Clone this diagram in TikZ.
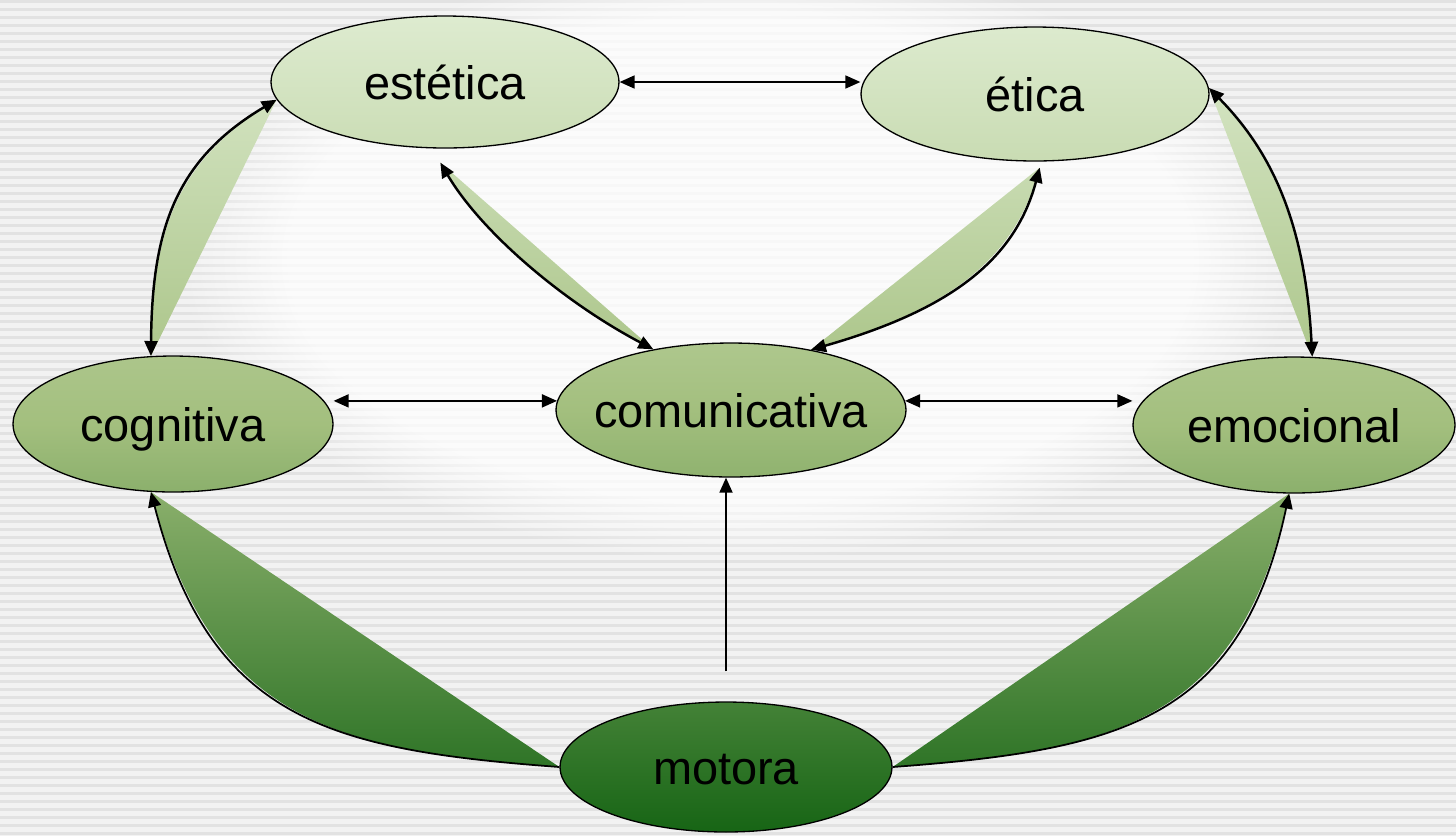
\documentclass[tikz,border=0pt]{standalone}
\usepackage{fontspec}
\setmainfont{Liberation Sans}
\usetikzlibrary{shapes.geometric,arrows.meta,fadings}
\definecolor{vclair}{HTML}{E0EDD3}
\definecolor{vmoyen}{HTML}{A3BF7E}
\definecolor{vfonce}{HTML}{176515}
\definecolor{fond}{HTML}{F2F2F2}
\definecolor{raie}{HTML}{E2E2E2}
\begin{document}
\begin{tikzpicture}[x=0.02cm,y=-0.02cm,>={Triangle[length=0.3cm,width=0.26cm]}]
	\tikzstyle{bulle}=[ellipse,draw,line width=0.75pt,inner sep=0pt,text height=0.68cm,text depth=0pt,font=\fontsize{26.7}{32}\selectfont]
	\tikzstyle{fleche}=[line width=1pt]
	\tikzstyle{courbe}=[line width=1.4pt]
	% fond raye
	\useasboundingbox (0,0) rectangle (1456,836);
	\fill[fond] (0,0) rectangle (1456,836);
	\foreach \k in {0,...,104} \fill[raie] (0,\k*8) rectangle (1456,\k*8+3);
	\fill[white,fill opacity=0.75,path fading=circle with fuzzy edge 20 percent] (740,260) ellipse (560 and 300);
	% les bulles
	\node[bulle,minimum width=6.96cm,minimum height=2.64cm,top color=vmoyen!4!vclair,bottom color=vmoyen!35!vclair] (estetica) at (445,82) {\makebox[0pt]{estética}};
	\node[bulle,minimum width=6.96cm,minimum height=2.68cm,top color=vmoyen!6!vclair,bottom color=vmoyen!38!vclair] (etica) at (1035,94) {\makebox[0pt]{ética}};
	\node[bulle,minimum width=6.4cm,minimum height=2.72cm,top color=vmoyen!85!vclair,bottom color=vfonce!17!vmoyen,middle color=vmoyen] (cognitiva) at (173,424) {\makebox[0pt]{cognitiva}};
	\node[bulle,minimum width=7cm,minimum height=2.68cm,top color=vmoyen!82!vclair,bottom color=vfonce!14!vmoyen,middle color=vmoyen] (comunicativa) at (731,410) {\makebox[0pt]{comunicativa}};
	\node[bulle,minimum width=6.44cm,minimum height=2.72cm,top color=vmoyen!85!vclair,bottom color=vfonce!17!vmoyen,middle color=vmoyen] (emocional) at (1294,425) {\makebox[0pt]{emocional}};
	\node[bulle,minimum width=6.64cm,minimum height=2.6cm,top color=vfonce!68!vmoyen,bottom color=vfonce] (motora) at (726,767) {\makebox[0pt]{motora}};
	% pointes sous estetica et etica
	\coordinate (pE) at ([yshift=-0.28cm]estetica.266);
	\coordinate (pT) at ([yshift=-0.12cm]etica.274);
	% fleches droites
	\draw[fleche,<->] (estetica.east) -- (estetica.east -| etica.west);
	\draw[fleche,<->] (comunicativa.177 -| cognitiva.east) -- (comunicativa.177);
	\draw[fleche,<->] (comunicativa.3) -- (comunicativa.3 -| emocional.west);
	\draw[fleche,->] ([yshift=0.6cm]motora.north) -- (motora.north |- comunicativa.south);
	% cognitiva - estetica
	\shade[top color=vmoyen!24!vclair,bottom color=vmoyen!85!vclair] (cognitiva.108) -- (estetica.186) .. controls (175,160) and (152,230) .. (cognitiva.108);
	\draw[courbe,<->] (estetica.186) .. controls (175,160) and (152,230) .. (cognitiva.108);
	% estetica - comunicativa
	\shade[top color=vmoyen!39!vclair,bottom color=vmoyen!84!vclair] (comunicativa.142) -- (pE) .. controls (480,230) and (560,300) .. (comunicativa.142);
	\draw[courbe,<->] (pE) .. controls (480,230) and (560,300) .. (comunicativa.142);
	% etica - comunicativa
	\shade[top color=vmoyen!39!vclair,bottom color=vmoyen!84!vclair] (comunicativa.37) -- (pT) .. controls (1015,260) and (950,310) .. (comunicativa.37);
	\draw[courbe,<->] (pT) .. controls (1015,260) and (950,310) .. (comunicativa.37);
	% etica - emocional
	\shade[top color=vmoyen!21!vclair,bottom color=vmoyen!84!vclair] (emocional.75) -- (etica.2) .. controls (1270,150) and (1305,220) .. (emocional.75);
	\draw[courbe,<->] (etica.2) .. controls (1270,150) and (1305,220) .. (emocional.75);
	% motora vers cognitiva et emocional
	\shade[top color=vfonce!18!vmoyen,bottom color=vfonce!83!vmoyen] (cognitiva.252) -- (motora.west) .. controls (330,750) and (210,720) .. (cognitiva.252);
	\draw[fleche,->] (motora.west) .. controls (330,750) and (210,720) .. (cognitiva.252);
	\shade[top color=vfonce!18!vmoyen,bottom color=vfonce!83!vmoyen] (emocional.266) -- (motora.east) .. controls (1121,750) and (1241,720) .. (emocional.266);
	\draw[fleche,->] (motora.east) .. controls (1121,750) and (1241,720) .. (emocional.266);
\end{tikzpicture}
\end{document}
